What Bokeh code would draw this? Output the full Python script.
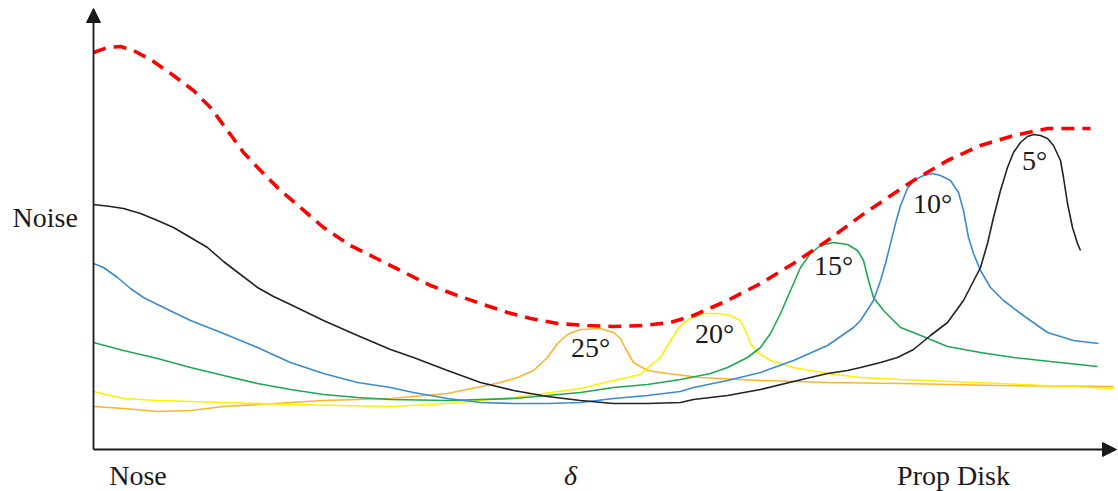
from bokeh.plotting import figure
from bokeh.models import Range1d, Arrow, NormalHead
from bokeh.core.properties import value
from bokeh.embed import file_html
from bokeh.resources import INLINE

# ---- data (x: position along the body from the nose, y: noise level) ----
env_x = [0, 14, 27, 40, 57, 80, 100, 117, 134, 150, 167, 187, 207, 230, 257, 287, 317, 337, 364, 387, 414, 437,
         464, 494, 520, 550, 577, 600, 634, 667, 700, 734, 757, 772, 790, 820, 854, 887, 920, 954, 997]
env_y = [397, 402, 403, 399, 390, 374, 359, 342, 319, 297, 279, 259, 242, 222, 204, 189, 174, 164, 154, 146, 137, 131,
         126, 124, 123, 124, 127, 134, 149, 166, 186, 209, 226, 237, 249, 269, 289, 304, 314, 321, 321]

a5_x = [0, 17, 30, 47, 64, 80, 97, 114, 130, 147, 164, 180, 197, 230, 264, 297, 320, 354, 387, 420,
        454, 487, 520, 554, 587, 600, 634, 667, 700, 734, 754, 767, 787, 804, 820, 837, 854, 870, 887, 894,
        900, 907, 914, 920, 927, 934, 940, 947, 954, 960, 967, 970, 974, 979, 984, 987]
a5_y = [245, 243, 241, 236, 229, 222, 212, 202, 188, 175, 162, 153, 145, 129, 114, 100, 92, 79, 67, 59,
        53, 49, 46, 46, 47, 50, 54, 60, 68, 76, 79, 82, 87, 92, 100, 114, 127, 149, 182, 206,
        232, 259, 282, 297, 307, 313, 315, 314, 311, 304, 289, 272, 246, 222, 206, 199]

a10_x = [0, 10, 24, 37, 50, 64, 97, 130, 164, 197, 230, 264, 297, 320, 354, 387, 420, 454, 487, 520,
         554, 587, 600, 634, 667, 700, 734, 760, 767, 780, 787, 792, 797, 802, 807, 814, 820, 830, 839, 847,
         857, 865, 870, 875, 880, 887, 897, 910, 927, 954, 980, 1005]
a10_y = [186, 182, 172, 161, 152, 145, 129, 116, 102, 87, 76, 67, 62, 57, 51, 47, 46, 46, 47, 51,
         54, 58, 62, 69, 77, 89, 104, 122, 129, 149, 169, 186, 206, 226, 244, 261, 269, 274, 276, 274,
         269, 257, 239, 212, 196, 179, 162, 149, 136, 117, 109, 106]

a15_x = [0, 30, 64, 97, 130, 164, 197, 230, 264, 297, 354, 420, 487, 520, 554, 587, 617, 634, 654, 667,
         677, 687, 697, 707, 717, 727, 740, 754, 764, 770, 775, 780, 790, 807, 820, 854, 887, 920, 957, 1004]
a15_y = [107, 99, 91, 82, 74, 66, 60, 55, 52, 50, 49, 51, 57, 62, 65, 70, 76, 82, 92, 102,
         116, 136, 159, 182, 196, 204, 207, 205, 199, 189, 169, 152, 139, 122, 117, 103, 97, 92, 88, 83]

a20_x = [0, 30, 64, 130, 197, 297, 354, 420, 487, 520, 547, 557, 567, 577, 587, 597, 610, 624, 637, 647,
         652, 657, 664, 677, 700, 734, 767, 807, 907, 1020]
a20_y = [58, 51, 49, 47, 45, 43, 46, 52, 61, 69, 75, 84, 92, 109, 124, 131, 136, 136, 134, 129,
         119, 106, 97, 89, 82, 76, 72, 70, 66, 61]

a25_x = [0, 30, 64, 97, 130, 164, 197, 230, 264, 297, 354, 407, 424, 440, 454, 464, 474, 487, 507, 520,
         527, 532, 540, 554, 574, 607, 667, 734, 807, 907, 1020]
a25_y = [43, 41, 38, 39, 43, 45, 47, 49, 50, 51, 56, 67, 72, 79, 92, 106, 115, 120, 121, 117,
         111, 101, 87, 79, 76, 72, 69, 67, 66, 64, 63]

angle_labels = ["25°", "20°", "15°", "10°", "5°"]
angle_label_x = [497, 621, 740, 839, 941]
angle_label_y = [102, 116, 184, 246, 289]

x_tick_labels = ["Nose", "Prop Disk"]
x_tick_pos = [44.5, 860]
delta_label = ["δ"]
delta_pos = [477]
x_label_y = -26
y_tick_labels = ["Noise"]
y_tick_pos = [232]

X_MAX = 1023
Y_MAX = 441

# ---- figure ----
p = figure(width=1118, height=491, x_range=Range1d(-93, 1025), y_range=Range1d(-42, 449),
           output_backend="svg", toolbar_location=None,
           x_axis_location=None, y_axis_location=None, min_border=0)
p.outline_line_color = None
p.grid.grid_line_color = None
p.background_fill_color = "white"
p.border_fill_color = "white"

lw = 1.6
p.line(a25_x, a25_y, line_color="#F9B52E", line_width=lw)
p.line(a20_x, a20_y, line_color="#FFF000", line_width=lw)
p.line(a15_x, a15_y, line_color="#1BAA4E", line_width=lw)
p.line(a10_x, a10_y, line_color="#3A8BD0", line_width=lw)
p.line(a5_x, a5_y, line_color="#222222", line_width=lw)
p.line(env_x, env_y, line_color="#FF0000", line_width=3.6, line_dash="13 8")

# axes with arrow heads
axis_col = "#1a1a1a"
p.add_layout(Arrow(end=NormalHead(size=14, fill_color=axis_col, line_color=axis_col),
                   x_start=0, y_start=0, x_end=0, y_end=Y_MAX,
                   line_color=axis_col, line_width=1.8))
p.add_layout(Arrow(end=NormalHead(size=14, fill_color=axis_col, line_color=axis_col),
                   x_start=0, y_start=0, x_end=X_MAX, y_end=0,
                   line_color=axis_col, line_width=1.8))

font = value("Liberation Serif")
fs = "28px"
p.text(x=angle_label_x, y=angle_label_y, text=angle_labels, text_font=font, text_font_size=fs,
       text_align="center", text_baseline="alphabetic", text_color="#1a1a1a")
p.text(x=x_tick_pos, y=[x_label_y] * len(x_tick_pos), text=x_tick_labels, text_font=font, text_font_size=fs,
       text_align="center", text_baseline="alphabetic", text_color="#1a1a1a")
p.text(x=delta_pos, y=[x_label_y], text=delta_label, text_font=font, text_font_size=fs,
       text_font_style="italic", text_align="center", text_baseline="alphabetic", text_color="#1a1a1a")
p.text(x=[-81], y=y_tick_pos, text=y_tick_labels, text_font=font, text_font_size=fs,
       text_align="left", text_baseline="alphabetic", text_color="#1a1a1a")

open("out.html", "w").write(file_html(p, INLINE))
